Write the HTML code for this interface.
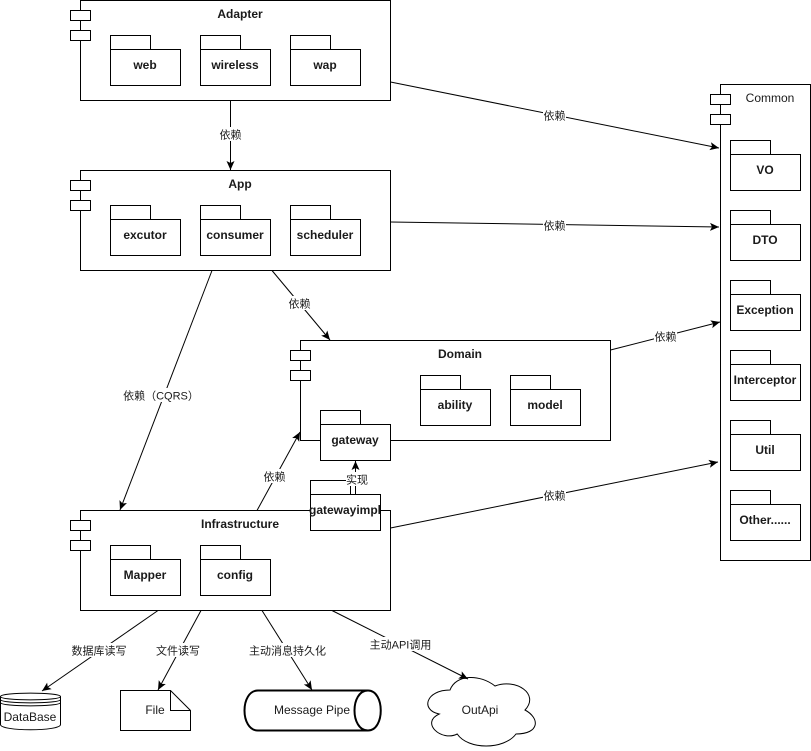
<!DOCTYPE html>
<html><head><meta charset="utf-8"><style>
html,body{margin:0;padding:0;background:#fff}
svg{display:block}
text{font-family:"Liberation Sans","Noto Sans CJK SC",sans-serif;font-size:12px;fill:#1a1a1a;text-anchor:middle}
.b{font-weight:bold}
.l{font-size:11px}
.s{fill:#fff;stroke:#000;stroke-width:1}
.c{fill:none;stroke:#000;stroke-width:1}
.w{fill:#fff;stroke:none}
</style></head><body>
<svg width="811" height="751" viewBox="0 0 811 751" xmlns="http://www.w3.org/2000/svg">
<defs><marker id="a" markerUnits="userSpaceOnUse" markerWidth="9" markerHeight="8" viewBox="0 0 9 8" refX="9" refY="4" orient="auto" overflow="visible"><path d="M9,4 L0,0 L2,4 L0,8Z" fill="#000"/></marker></defs>

<!-- Adapter -->
<rect class="s" x="80.5" y="0.5" width="310" height="100"/>
<rect class="s" x="70.5" y="10.5" width="20" height="10"/><rect class="s" x="70.5" y="30.5" width="20" height="10"/>
<text class="b" x="240" y="18">Adapter</text>
<rect class="s" x="110.5" y="35.5" width="40" height="14"/><rect class="s" x="110.5" y="49.5" width="70" height="36"/><text class="b" x="145" y="69">web</text>
<rect class="s" x="200.5" y="35.5" width="40" height="14"/><rect class="s" x="200.5" y="49.5" width="70" height="36"/><text class="b" x="235" y="69">wireless</text>
<rect class="s" x="290.5" y="35.5" width="40" height="14"/><rect class="s" x="290.5" y="49.5" width="70" height="36"/><text class="b" x="325" y="69">wap</text>

<!-- App -->
<rect class="s" x="80.5" y="170.5" width="310" height="100"/>
<rect class="s" x="70.5" y="180.5" width="20" height="10"/><rect class="s" x="70.5" y="200.5" width="20" height="10"/>
<text class="b" x="240" y="188">App</text>
<rect class="s" x="110.5" y="205.5" width="40" height="14"/><rect class="s" x="110.5" y="219.5" width="70" height="36"/><text class="b" x="145" y="239">excutor</text>
<rect class="s" x="200.5" y="205.5" width="40" height="14"/><rect class="s" x="200.5" y="219.5" width="70" height="36"/><text class="b" x="235" y="239">consumer</text>
<rect class="s" x="290.5" y="205.5" width="40" height="14"/><rect class="s" x="290.5" y="219.5" width="70" height="36"/><text class="b" x="325" y="239">scheduler</text>

<!-- Domain -->
<rect class="s" x="300.5" y="340.5" width="310" height="100"/>
<rect class="s" x="290.5" y="350.5" width="20" height="10"/><rect class="s" x="290.5" y="370.5" width="20" height="10"/>
<text class="b" x="460" y="358">Domain</text>
<rect class="s" x="420.5" y="375.5" width="40" height="14"/><rect class="s" x="420.5" y="389.5" width="70" height="36"/><text class="b" x="455" y="409">ability</text>
<rect class="s" x="510.5" y="375.5" width="40" height="14"/><rect class="s" x="510.5" y="389.5" width="70" height="36"/><text class="b" x="545" y="409">model</text>
<rect class="s" x="320.5" y="410.5" width="40" height="14"/><rect class="s" x="320.5" y="424.5" width="70" height="36"/><text class="b" x="355" y="444">gateway</text>

<!-- Infrastructure -->
<rect class="s" x="80.5" y="510.5" width="310" height="100"/>
<rect class="s" x="70.5" y="520.5" width="20" height="10"/><rect class="s" x="70.5" y="540.5" width="20" height="10"/>
<text class="b" x="240" y="528">Infrastructure</text>
<rect class="s" x="110.5" y="545.5" width="40" height="14"/><rect class="s" x="110.5" y="559.5" width="70" height="36"/><text class="b" x="145" y="579">Mapper</text>
<rect class="s" x="200.5" y="545.5" width="40" height="14"/><rect class="s" x="200.5" y="559.5" width="70" height="36"/><text class="b" x="235" y="579">config</text>

<!-- gatewayimpl -->
<rect class="s" x="310.5" y="480.5" width="40" height="14"/><rect class="s" x="310.5" y="494.5" width="70" height="36"/><text class="b" x="345" y="514">gatewayimpl</text>

<!-- Common -->
<rect class="s" x="720.5" y="84.5" width="90" height="476"/>
<rect class="s" x="710.5" y="94.5" width="20" height="10"/><rect class="s" x="710.5" y="114.5" width="20" height="10"/>
<text x="770" y="102">Common</text>
<rect class="s" x="730.5" y="140.5" width="40" height="14"/><rect class="s" x="730.5" y="154.5" width="70" height="36"/><text class="b" x="765" y="174">VO</text>
<rect class="s" x="730.5" y="210.5" width="40" height="14"/><rect class="s" x="730.5" y="224.5" width="70" height="36"/><text class="b" x="765" y="244">DTO</text>
<rect class="s" x="730.5" y="280.5" width="40" height="14"/><rect class="s" x="730.5" y="294.5" width="70" height="36"/><text class="b" x="765" y="314">Exception</text>
<rect class="s" x="730.5" y="350.5" width="40" height="14"/><rect class="s" x="730.5" y="364.5" width="70" height="36"/><text class="b" x="765" y="384">Interceptor</text>
<rect class="s" x="730.5" y="420.5" width="40" height="14"/><rect class="s" x="730.5" y="434.5" width="70" height="36"/><text class="b" x="765" y="454">Util</text>
<rect class="s" x="730.5" y="490.5" width="40" height="14"/><rect class="s" x="730.5" y="504.5" width="70" height="36"/><text class="b" x="765" y="524">Other......</text>

<!-- bottom shapes -->
<path class="s" d="M0.5,696.5 C0.5,692 60.5,692 60.5,696.5 L60.5,724.5 C60.5,731.5 0.5,731.5 0.5,724.5Z"/>
<path class="c" d="M0.5,696.5 C0.5,701 60.5,701 60.5,696.5 M0.5,699.5 C0.5,704 60.5,704 60.5,699.5 M0.5,702.5 C0.5,707 60.5,707 60.5,702.5"/>
<text x="30" y="721">DataBase</text>
<path class="s" d="M120.5,690.5 H170.5 L190.5,710.5 V730.5 H120.5Z"/><path class="c" d="M170.5,690.5 V710.5 H190.5"/>
<text x="155" y="714">File</text>
<path d="M258,690.5 H368 C385,690.5 385,730.5 368,730.5 H258 C240,730.5 240,690.5 258,690.5Z" fill="#fff" stroke="#000" stroke-width="2"/>
<path d="M368,690.5 C350,690.5 350,730.5 368,730.5" fill="none" stroke="#000" stroke-width="2"/>
<text x="312" y="714">Message Pipe</text>
<path class="s" d="M450,690 C426,690 420,710 439.2,714 C420,722.8 441.6,742 457.2,734 C468,750 504,750 516,734 C540,734 540,718 525,710 C540,694 516,678 495,686 C480,674 456,674 450,690Z"/>
<text x="480" y="714">OutApi</text>

<!-- connectors -->
<line class="c" x1="230.5" y1="100.5" x2="230.5" y2="170" marker-end="url(#a)"/>
<line class="c" x1="390.5" y1="82" x2="719" y2="148" marker-end="url(#a)"/>
<line class="c" x1="390.5" y1="222" x2="719" y2="227" marker-end="url(#a)"/>
<line class="c" x1="272" y1="270.5" x2="330" y2="340" marker-end="url(#a)"/>
<line class="c" x1="212" y1="270.5" x2="120" y2="510" marker-end="url(#a)"/>
<line class="c" x1="610.5" y1="350" x2="720" y2="322" marker-end="url(#a)"/>
<line class="c" x1="257" y1="510.5" x2="300" y2="432" marker-end="url(#a)"/>
<line class="c" x1="390.5" y1="528" x2="718" y2="462" marker-end="url(#a)"/>
<line class="c" x1="350.5" y1="494" x2="350.5" y2="480"/>
<line class="c" x1="355.5" y1="494" x2="355.5" y2="461" marker-end="url(#a)"/>
<line class="c" x1="158" y1="610.5" x2="42" y2="691" marker-end="url(#a)"/>
<line class="c" x1="201" y1="610.5" x2="158" y2="690" marker-end="url(#a)"/>
<line class="c" x1="262" y1="610.5" x2="312" y2="690" marker-end="url(#a)"/>
<line class="c" x1="332" y1="610.5" x2="468" y2="679" marker-end="url(#a)"/>

<!-- labels -->
<rect class="w" x="219" y="127" width="23" height="14"/><text class="l" x="230.5" y="138.5">依赖</text>
<rect class="w" x="543" y="108" width="23" height="14"/><text class="l" x="554.5" y="119.5">依赖</text>
<rect class="w" x="543" y="218" width="23" height="14"/><text class="l" x="554.5" y="229.5">依赖</text>
<rect class="w" x="288" y="296" width="23" height="14"/><text class="l" x="299.5" y="307.5">依赖</text>
<rect class="w" x="654" y="329" width="23" height="14"/><text class="l" x="665.5" y="340.5">依赖</text>
<rect class="w" x="263" y="469" width="23" height="14"/><text class="l" x="274.5" y="480.5">依赖</text>
<rect class="w" x="543" y="488" width="23" height="14"/><text class="l" x="554.5" y="499.5">依赖</text>
<rect class="w" x="125" y="388" width="72" height="14"/><text class="l" x="161" y="399.5">依赖（CQRS）</text>
<rect class="w" x="346" y="472" width="23" height="14"/><text class="l" x="357" y="483.5">实现</text>
<rect class="w" x="71" y="643" width="56" height="14"/><text class="l" x="99" y="654.5">数据库读写</text>
<rect class="w" x="155" y="643" width="46" height="14"/><text class="l" x="178" y="654.5">文件读写</text>
<rect class="w" x="249" y="643" width="77" height="14"/><text class="l" x="287.5" y="654.5">主动消息持久化</text>
<rect class="w" x="369" y="637" width="63" height="14"/><text class="l" x="400.5" y="648.5">主动API调用</text>
</svg>
</body></html>
